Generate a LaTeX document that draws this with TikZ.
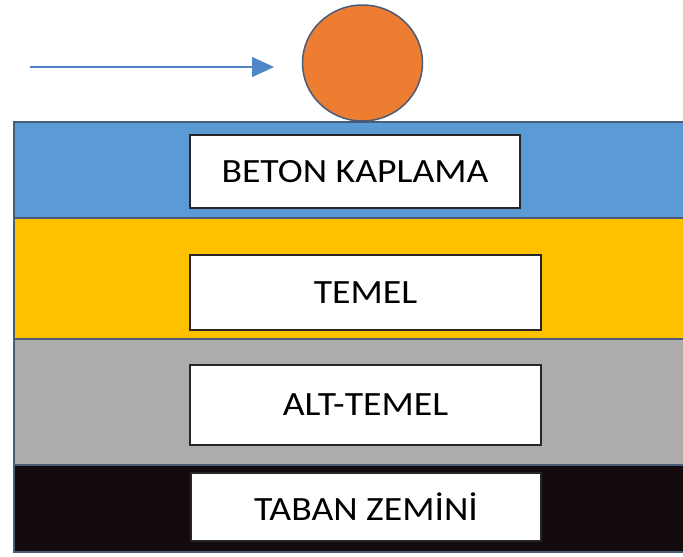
\documentclass[tikz,border=0pt]{standalone}
\usepackage{fontspec}
\setmainfont{Carlito}
\usetikzlibrary{arrows.meta,shapes.geometric}
\definecolor{layblue}{HTML}{5B9BD5}
\definecolor{layyellow}{HTML}{FFC000}
\definecolor{laygrey}{HTML}{AEABAB}
\definecolor{layblack}{HTML}{140C0C}
\definecolor{edgecol}{HTML}{4A5C78}
\definecolor{ballfill}{HTML}{ED7D31}
\definecolor{arrcol}{HTML}{4F86C6}
\tikzset{
  layer/.style={draw=edgecol, line width=1.5pt},
  label box/.style={draw=black!85, line width=1.2pt, fill=white, inner sep=0pt,
    font=\fontsize{34}{37}\selectfont},
  ball/.style={ellipse, draw=edgecol, line width=1.5pt, fill=ballfill, inner sep=0pt},
  push/.style={draw=arrcol, line width=1.3pt, -{Triangle[length=22pt,width=20pt]}}
}
\newcommand{\wtxt}[1]{\scalebox{1.11}[1]{#1}}
\begin{document}
\begin{tikzpicture}[x=1pt,y=-1pt]
\useasboundingbox (0,0) rectangle (683,557);
\fill[white] (0,0) rectangle (683,557);
% layers
\path[layer, fill=layblue]   (14,122) rectangle (690,218);
\path[layer, fill=layyellow] (14,218) rectangle (690,339);
\path[layer, fill=laygrey]   (14,339) rectangle (690,465);
\path[layer, fill=layblack]  (14,465) rectangle (690,552);
% label boxes
\node[label box, minimum width=330pt, minimum height=73pt] (beton) at (355,171.5) {\wtxt{BETON KAPLAMA}};
\node[label box, minimum width=351pt, minimum height=75pt] (temel) at (365.5,292.5) {\wtxt{TEMEL}};
\node[label box, minimum width=351pt, minimum height=80pt] (alt) at (365.5,405) {\wtxt{ALT-TEMEL}};
\node[label box, minimum width=350pt, minimum height=68pt] (taban) at (366,507) {\wtxt{TABAN ZEMİNİ}};
% ball
\node[ball, minimum width=120pt, minimum height=116pt] (ball) at (362.5,63) {};
% arrow
\coordinate (arrS) at (30,67);
\coordinate (arrE) at (274,67);
\draw[push] (arrS) -- (arrE);
\end{tikzpicture}
\end{document}
